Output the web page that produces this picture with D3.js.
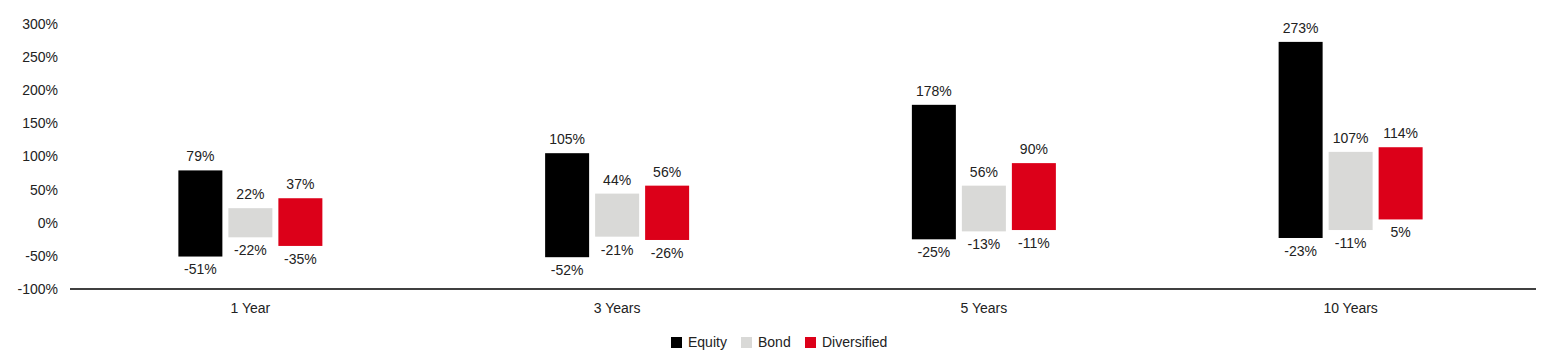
<!DOCTYPE html>
<html>
<head>
<meta charset="utf-8">
<script src="https://cdn.jsdelivr.net/npm/d3@7"></script>
<style>
  body { margin: 0; background: #fff; }
  text { font-family: "Liberation Sans", Arial, sans-serif; fill: #222; }
</style>
</head>
<body>
<div class="canvas"></div>
<script>
const categories = ['1 Year', '3 Years', '5 Years', '10 Years'];
const seriesNames = ['Equity', 'Bond', 'Diversified'];
const colors = ['#000000', '#d9d9d7', '#dc0019'];
// [low, high] per category
const equity = [[-51, 79], [-52, 105], [-25, 178], [-23, 273]];
const bond = [[-22, 22], [-21, 44], [-13, 56], [-11, 107]];
const diversified = [[-35, 37], [-26, 56], [-11, 90], [5, 114]];
const yTicks = [-100, -50, 0, 50, 100, 150, 200, 250, 300];

const dims = { width: 1564, height: 361 };
const margin = { left: 67, right: 30, top: 24, bottom: 72 };

const svg = d3.select('.canvas')
  .append('svg')
  .attr('width', dims.width)
  .attr('height', dims.height);

const x = d3.scaleBand()
  .domain(categories)
  .range([margin.left, dims.width - margin.right]);

const y = d3.scaleLinear()
  .domain([-100, 300])
  .range([dims.height - margin.bottom, margin.top]);

const barW = 44, step = 50;

// y tick labels
svg.append('g')
  .selectAll('text')
  .data(yTicks)
  .enter().append('text')
    .attr('x', 58)
    .attr('y', d => y(d))
    .attr('dy', '0.35em')
    .attr('text-anchor', 'end')
    .attr('font-size', 14)
    .text(d => d + '%');

// x axis line
svg.append('line')
  .attr('x1', 70)
  .attr('x2', 1536)
  .attr('y1', y(-100))
  .attr('y2', y(-100))
  .attr('stroke', '#000')
  .attr('stroke-width', 1.6);

svg.append('g')
  .selectAll('text')
  .data(categories)
  .enter().append('text')
    .attr('x', d => x(d) + x.bandwidth() / 2)
    .attr('y', y(-100) + 19)
    .attr('dy', '0.35em')
    .attr('text-anchor', 'middle')
    .attr('font-size', 14)
    .text(d => d);

const series = [equity, bond, diversified];

series.forEach((vals, i) => {
  const g = svg.append('g');
  const off = (i - 1) * step - barW / 2;
  const cx = c => x(c) + x.bandwidth() / 2 + off;

  g.selectAll('rect')
    .data(vals)
    .enter().append('rect')
      .attr('x', (d, j) => cx(categories[j]))
      .attr('y', d => y(d[1]))
      .attr('width', barW)
      .attr('height', d => y(d[0]) - y(d[1]))
      .attr('fill', colors[i]);

  g.selectAll('text.hi')
    .data(vals)
    .enter().append('text')
      .attr('class', 'hi')
      .attr('x', (d, j) => cx(categories[j]) + barW / 2)
      .attr('y', d => y(d[1]) - 14)
      .attr('dy', '0.35em')
      .attr('text-anchor', 'middle')
      .attr('font-size', 14)
      .text(d => d[1] + '%');

  g.selectAll('text.lo')
    .data(vals)
    .enter().append('text')
      .attr('class', 'lo')
      .attr('x', (d, j) => cx(categories[j]) + barW / 2)
      .attr('y', d => y(d[0]) + 13)
      .attr('dy', '0.35em')
      .attr('text-anchor', 'middle')
      .attr('font-size', 14)
      .text(d => d[0] + '%');
});

// legend
const legendX = [671, 741, 805];
const legend = svg.append('g');
seriesNames.forEach((name, i) => {
  legend.append('rect')
    .attr('x', legendX[i])
    .attr('y', 337)
    .attr('width', 11)
    .attr('height', 11)
    .attr('fill', colors[i]);
  legend.append('text')
    .attr('x', legendX[i] + 17)
    .attr('y', 342.5)
    .attr('dy', '0.35em')
    .attr('font-size', 14)
    .text(name);
});
</script>
</body>
</html>
